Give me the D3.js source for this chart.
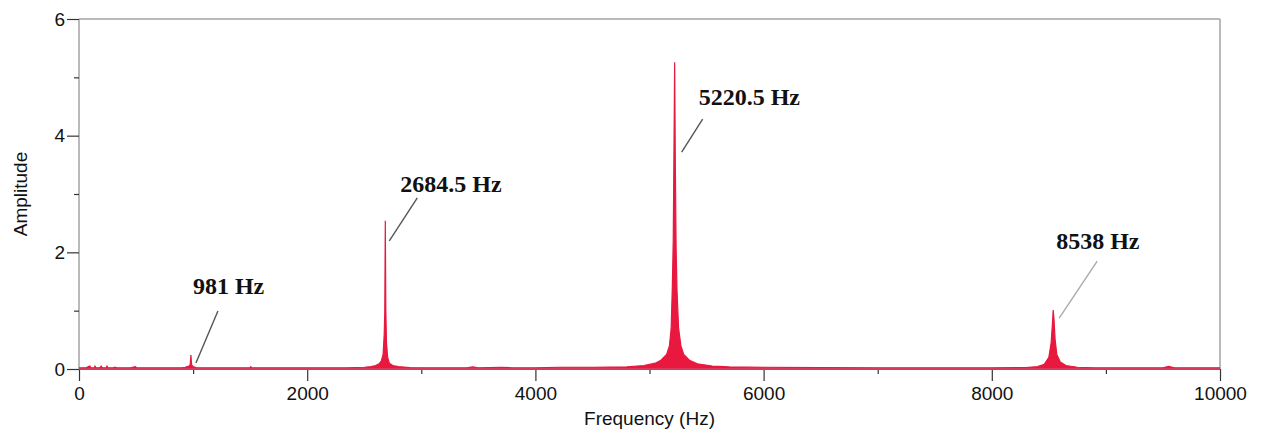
<!DOCTYPE html>
<html>
<head>
<meta charset="utf-8">
<script src="https://cdn.jsdelivr.net/npm/d3@7/dist/d3.min.js"></script>
<style>
  html, body { margin: 0; padding: 0; background: #ffffff; }
  svg { display: block; }
</style>
</head>
<body>
<svg id="chart" width="1266" height="434"></svg>
<script>
// Amplitude spectrum: frequency (Hz) and amplitude samples
const freqs = [
  0, 60, 95, 105, 135, 140, 150, 180, 195, 205, 240, 245, 255, 300, 315, 330,
  450, 495, 505, 900, 930, 965, 975, 981, 987, 1000, 1030,
  1500, 1505, 1515, 2000, 2350,
  2500, 2560, 2600, 2630, 2650, 2665, 2675, 2680, 2684.5, 2689, 2695, 2705, 2720, 2750, 2800, 2900,
  3000, 3400, 3450, 3500, 3700, 3800, 4000, 4200, 4500, 4800,
  4950, 5050, 5100, 5150, 5175, 5190, 5200, 5208, 5214, 5220.5, 5226, 5233, 5241, 5255, 5275, 5300, 5350, 5420, 5550, 5700,
  6000, 6500, 7000, 7500, 8000,
  8300, 8400, 8460, 8500, 8520, 8532, 8538, 8545, 8555, 8570, 8600, 8650, 8750, 8900,
  9500, 9550, 9600, 10000
];
const amps = [
  0.02, 0.02, 0.05, 0.02, 0.02, 0.05, 0.02, 0.02, 0.05, 0.02, 0.02, 0.05, 0.02, 0.02, 0.03, 0.02,
  0.02, 0.04, 0.02, 0.02, 0.03, 0.05, 0.08, 0.24, 0.07, 0.04, 0.02,
  0.02, 0.04, 0.02, 0.02, 0.02,
  0.03, 0.04, 0.06, 0.09, 0.14, 0.25, 0.6, 1.0, 2.54, 1.02, 0.45, 0.2, 0.1, 0.06, 0.04, 0.025,
  0.02, 0.02, 0.035, 0.02, 0.03, 0.02, 0.02, 0.03, 0.03, 0.035,
  0.06, 0.1, 0.15, 0.25, 0.4, 0.7, 1.4, 2.2, 3.63, 5.26, 3.6, 2.1, 1.35, 0.7, 0.4, 0.25, 0.15, 0.09, 0.05, 0.035,
  0.03, 0.025, 0.02, 0.02, 0.02,
  0.025, 0.04, 0.08, 0.2, 0.45, 0.8, 1.01, 0.85, 0.5, 0.25, 0.12, 0.06, 0.03, 0.02,
  0.02, 0.045, 0.02, 0.02
];

// Labelled peaks
const peakFreqs = [981, 2684.5, 5220.5, 8538];
const peakAmps  = [0.24, 2.54, 5.26, 1.01];
const peakLabels = ["981 Hz", "2684.5 Hz", "5220.5 Hz", "8538 Hz"];

// Axis ticks
const xMajorTicks = [0, 2000, 4000, 6000, 8000, 10000];
const xMinorTicks = [1000, 3000, 5000, 7000, 9000];
const yMajorTicks = [0, 2, 4, 6];
const yMinorTicks = [1, 3, 5];

const margin = { left: 79, right: 46, top: 19, bottom: 65 };
const W = 1266, H = 434;
const svg = d3.select("#chart");

const x = d3.scaleLinear().domain([0, 10000]).range([margin.left, W - margin.right]);
const y = d3.scaleLinear().domain([0, 6]).range([H - margin.bottom, margin.top]);

const frame = "#a3a3a3";
const tickCol = "#333333";
const red = "#e8183f";

// Plot frame: top and right edges, left axis line
svg.append("line").attr("x1", x(0)).attr("x2", x(10000)).attr("y1", y(6)).attr("y2", y(6))
  .attr("stroke", frame).attr("stroke-width", 1.5);
svg.append("line").attr("x1", x(10000)).attr("x2", x(10000)).attr("y1", y(6)).attr("y2", y(0))
  .attr("stroke", frame).attr("stroke-width", 1.5);
svg.append("line").attr("x1", x(0)).attr("x2", x(0)).attr("y1", y(6)).attr("y2", y(0))
  .attr("stroke", frame).attr("stroke-width", 1.5);

function styleAxis(g) {
  g.select(".domain").remove();
  g.selectAll(".tick line").attr("stroke", tickCol).attr("stroke-width", 1.2);
  g.selectAll(".tick text").attr("fill", "#111")
    .style("font-family", "'Liberation Sans', Arial, sans-serif").style("font-size", "19px");
}

// Y axis
svg.append("g").attr("transform", `translate(${x(0)},0)`)
  .call(d3.axisLeft(y).tickValues(yMajorTicks).tickSize(12).tickPadding(2).tickFormat(d3.format("d")))
  .call(styleAxis);
svg.append("g").attr("transform", `translate(${x(0)},0)`)
  .call(d3.axisLeft(y).tickValues(yMinorTicks).tickSize(5).tickFormat(""))
  .call(styleAxis);

// X axis
svg.append("g").attr("transform", `translate(0,${y(0)})`)
  .call(d3.axisBottom(x).tickValues(xMajorTicks).tickSize(12).tickPadding(6).tickFormat(d3.format("d")))
  .call(styleAxis);
svg.append("g").attr("transform", `translate(0,${y(0)})`)
  .call(d3.axisBottom(x).tickValues(xMinorTicks).tickSize(5).tickFormat(""))
  .call(styleAxis);

// Axis titles
svg.append("text")
  .attr("x", (x(0) + x(10000)) / 2).attr("y", 425)
  .attr("text-anchor", "middle")
  .style("font-family", "'Liberation Sans', Arial, sans-serif").style("font-size", "19px")
  .attr("fill", "#111").text("Frequency (Hz)");
svg.append("text")
  .attr("transform", `translate(27,${(y(0) + y(6)) / 2}) rotate(-90)`)
  .attr("text-anchor", "middle")
  .style("font-family", "'Liberation Sans', Arial, sans-serif").style("font-size", "19px")
  .attr("fill", "#111").text("Amplitude");

// Spectrum
const spectrum = freqs.map((f, i) => ({ f, a: amps[i] }));
const area = d3.area().x(d => x(d.f)).y0(y(0)).y1(d => y(d.a));
const line = d3.line().x(d => x(d.f)).y(d => y(d.a));
svg.append("path").datum(spectrum).attr("d", area).attr("fill", red);
svg.append("path").datum(spectrum).attr("d", line)
  .attr("fill", "none").attr("stroke", red).attr("stroke-width", 1.2);
svg.append("line").attr("x1", x(0)).attr("x2", x(10000)).attr("y1", y(0)).attr("y2", y(0))
  .attr("stroke", "#d8385a").attr("stroke-width", 2);

// Peak annotations: leader line offsets and text offsets relative to each peak
const annLayout = [
  { lx1: 5, ly1: 8, lx2: 27, ly2: -44, tx: 2, ty: -61, col: "#555" },
  { lx1: 4, ly1: 20, lx2: 32, ly2: -23, tx: 15, ty: -29, col: "#555" },
  { lx1: 7, ly1: 90, lx2: 28, ly2: 57, tx: 24, ty: 43, col: "#555" },
  { lx1: 6, ly1: 8, lx2: 44, ly2: -49, tx: 3, ty: -61, col: "#aaa" }
];
peakFreqs.forEach((f, i) => {
  const px = x(f), py = y(peakAmps[i]);
  const L = annLayout[i];
  svg.append("line")
    .attr("x1", px + L.lx1).attr("y1", py + L.ly1)
    .attr("x2", px + L.lx2).attr("y2", py + L.ly2)
    .attr("stroke", L.col).attr("stroke-width", 1.4);
  svg.append("text")
    .attr("x", px + L.tx).attr("y", py + L.ty)
    .style("font-family", "'Liberation Serif', 'Times New Roman', serif")
    .style("font-size", "24px").style("font-weight", "bold")
    .attr("fill", "#111").text(peakLabels[i]);
});
</script>
</body>
</html>
